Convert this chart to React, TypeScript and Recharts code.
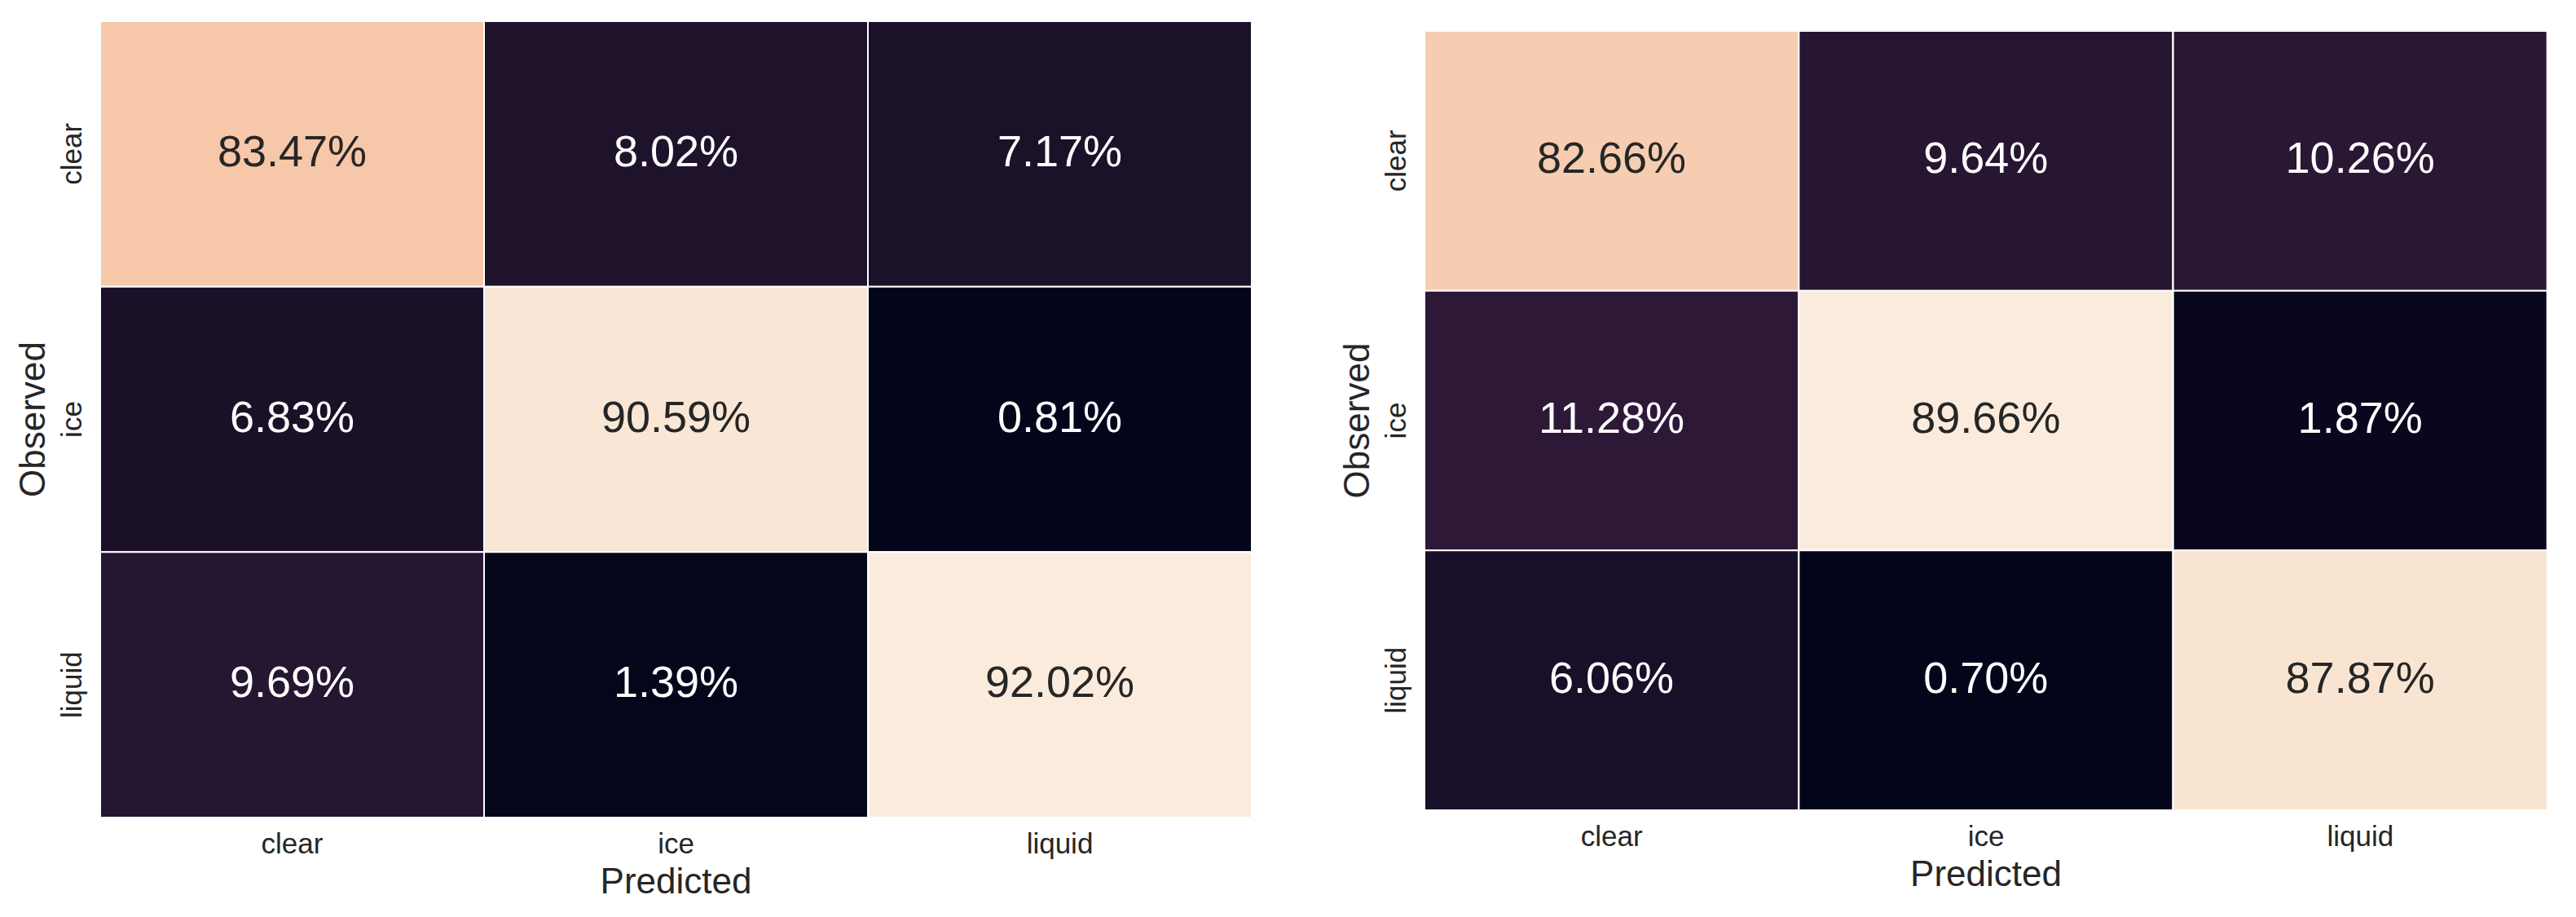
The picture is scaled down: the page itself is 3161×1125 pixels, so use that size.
import { BarChart, Bar, XAxis, YAxis, Cell, LabelList, Label } from 'recharts';

const classes = ['clear', 'ice', 'liquid'];

// rows = observed, columns = predicted
const leftClearRow = [83.47, 8.02, 7.17];
const leftIceRow = [6.83, 90.59, 0.81];
const leftLiquidRow = [9.69, 1.39, 92.02];

const rightClearRow = [82.66, 9.64, 10.26];
const rightIceRow = [11.28, 89.66, 1.87];
const rightLiquidRow = [6.06, 0.7, 87.87];

const yTicks = [0.5, 1.5, 2.5];

const FONT = '"Liberation Sans", Arial, Helvetica, sans-serif';
const TEXT = '#262626';

// approximate seaborn "rocket" colormap
const rocket: [number, number, number, number][] = [
  [0, 3, 5, 26],
  [0.066, 26, 17, 41],
  [0.1, 38, 22, 50],
  [0.12, 46, 24, 56],
  [0.25, 112, 31, 87],
  [0.5, 203, 27, 79],
  [0.75, 243, 118, 81],
  [0.85, 245, 162, 122],
  [0.9, 246, 196, 165],
  [0.95, 247, 218, 194],
  [1, 250, 235, 221],
];

function rocketColor(t: number) {
  const v = Math.max(0, Math.min(1, t));
  for (let i = 1; i < rocket.length; i++) {
    const [t1, r1, g1, b1] = rocket[i];
    const [t0, r0, g0, b0] = rocket[i - 1];
    if (v <= t1) {
      const f = (v - t0) / (t1 - t0);
      const r = Math.round(r0 + (r1 - r0) * f);
      const g = Math.round(g0 + (g1 - g0) * f);
      const b = Math.round(b0 + (b1 - b0) * f);
      return `rgb(${r},${g},${b})`;
    }
  }
  return 'rgb(250,235,221)';
}

function buildData(rows: number[][]) {
  return classes.map((pred, j) => {
    const d: any = { predicted: pred };
    classes.forEach((obs, i) => {
      d[obs] = 1;
      d[obs + 'Pct'] = rows[i][j];
    });
    return d;
  });
}

function YTick(props: any) {
  const { x, y, payload } = props;
  const label = classes[Math.floor(payload.value)];
  return (
    <text
      x={x - 23}
      y={y}
      transform={`rotate(-90, ${x - 23}, ${y})`}
      textAnchor="middle"
      fontFamily={FONT}
      fontSize={35}
      fill={TEXT}
    >
      {label}
    </text>
  );
}

function XTick(props: any) {
  const { x, y, payload } = props;
  return (
    <text x={x} y={y + 44} textAnchor="middle" fontFamily={FONT} fontSize={35} fill={TEXT}>
      {payload.value}
    </text>
  );
}

type PanelProps = {
  rows: number[][];
  left: number;
  top: number;
  width: number;
  height: number;
  margin: { top: number; right: number; bottom: number; left: number };
};

function Panel({ rows, left, top, width, height, margin }: PanelProps) {
  const data = buildData(rows);
  const all = rows.flat();
  const vmin = Math.min(...all);
  const vmax = Math.max(...all);
  const norm = (v: number) => (v - vmin) / (vmax - vmin);

  const cellLabel = (props: any) => {
    const { x, y, width: w, height: h, value } = props;
    const cx = x + w / 2;
    const cy = y + h / 2;
    const light = norm(value) > 0.5;
    return (
      <text
        x={cx}
        y={cy + 15}
        textAnchor="middle"
        fontFamily={FONT}
        fontSize={54}
        fill={light ? TEXT : '#ffffff'}
      >
        {value.toFixed(2) + '%'}
      </text>
    );
  };

  return (
    <div style={{ position: 'absolute', left, top }}>
      <BarChart width={width} height={height} data={data} margin={margin} barCategoryGap={0} barGap={0}>
        <XAxis
          dataKey="predicted"
          type="category"
          height={100}
          axisLine={false}
          tickLine={false}
          tickSize={0}
          tickMargin={0}
          tick={<XTick />}
        >
          <Label
            content={(p: any) => {
              const vb = p.viewBox;
              return (
                <text
                  x={vb.x + vb.width / 2}
                  y={vb.y + 93}
                  textAnchor="middle"
                  fontFamily={FONT}
                  fontSize={44}
                  fill={TEXT}
                >
                  Predicted
                </text>
              );
            }}
          />
        </XAxis>
        <YAxis
          type="number"
          domain={[0, 3]}
          ticks={yTicks}
          reversed
          width={100}
          axisLine={false}
          tickLine={false}
          tickSize={0}
          tickMargin={0}
          tick={<YTick />}
          allowDataOverflow
        >
          <Label
            content={(p: any) => {
              const vb = p.viewBox;
              const lx = vb.x + vb.width - 68;
              const ly = vb.y + vb.height / 2;
              return (
                <text
                  x={lx}
                  y={ly}
                  transform={`rotate(-90, ${lx}, ${ly})`}
                  textAnchor="middle"
                  fontFamily={FONT}
                  fontSize={44}
                  fill={TEXT}
                >
                  Observed
                </text>
              );
            }}
          />
        </YAxis>
        {classes.map((obs) => (
          <Bar key={obs} dataKey={obs} stackId="cm" isAnimationActive={false} stroke="#ffffff" strokeWidth={2}>
            {data.map((d: any, j: number) => (
              <Cell key={j} fill={rocketColor(norm(d[obs + 'Pct']))} />
            ))}
            <LabelList dataKey={obs + 'Pct'} content={cellLabel} />
          </Bar>
        ))}
      </BarChart>
    </div>
  );
}

export default function App() {
  return (
    <div style={{ position: 'relative', width: 3161, height: 1125, background: '#ffffff' }}>
      <style>{'body{margin:0;}'}</style>
      <Panel
        rows={[leftClearRow, leftIceRow, leftLiquidRow]}
        left={0}
        top={0}
        width={1600}
        height={1125}
        margin={{ top: 26, right: 64, bottom: 22, left: 23 }}
      />
      <Panel
        rows={[rightClearRow, rightIceRow, rightLiquidRow]}
        left={1600}
        top={0}
        width={1561}
        height={1125}
        margin={{ top: 38, right: 35, bottom: 31, left: 48 }}
      />
    </div>
  );
}
